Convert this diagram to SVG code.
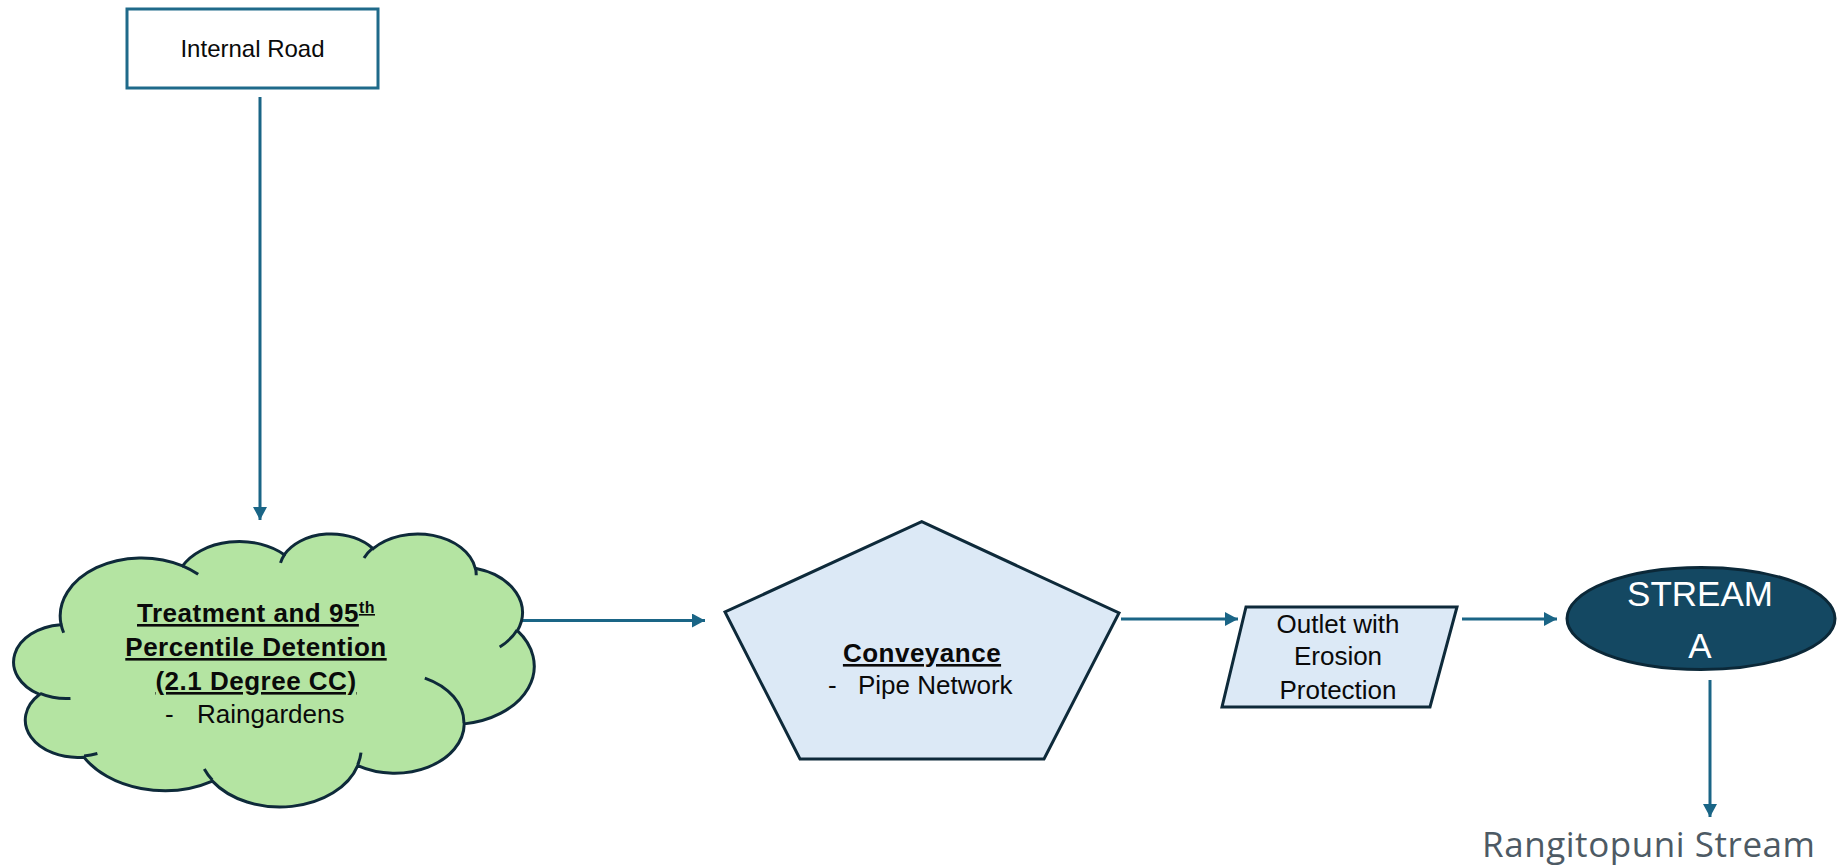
<svg xmlns="http://www.w3.org/2000/svg" width="1842" height="867" viewBox="0 0 1842 867">
<style>
.t{font-family:"Liberation Sans",Arial,sans-serif;fill:#0a0a0a}
.b{font-weight:bold;text-decoration:underline;letter-spacing:0.5px}
.conn{stroke:#1A6586;stroke-width:3;fill:none}
.shape{stroke:#0E2A3A;stroke-width:3}
</style>
<defs>
<marker id="ah" markerUnits="userSpaceOnUse" markerWidth="14" markerHeight="14" refX="13" refY="7" orient="auto">
<path d="M0,0 L13,7 L0,14 z" fill="#1A6586"/>
</marker>
</defs>
<rect width="1842" height="867" fill="#ffffff"/>
<g id="connectors">
<line class="conn" x1="260" y1="97" x2="260" y2="520" marker-end="url(#ah)"/>
<line class="conn" x1="522" y1="620.5" x2="705" y2="620.5" marker-end="url(#ah)"/>
<line class="conn" x1="1121" y1="619" x2="1238" y2="619" marker-end="url(#ah)"/>
<line class="conn" x1="1462" y1="619" x2="1557" y2="619" marker-end="url(#ah)"/>
<line class="conn" x1="1710" y1="680" x2="1710" y2="817" marker-end="url(#ah)"/>
</g>
<g id="internal-road">
<rect x="127" y="9" width="251" height="79" fill="#ffffff" stroke="#1F6A8A" stroke-width="3"/>
<text class="t" x="252.5" y="57" font-size="24" text-anchor="middle">Internal Road</text>
</g>
<g id="treatment">
<g transform="translate(14,533) scale(0.0120370,0.0063194)">
<path d="M3900 14370 A6753 9190 0 0 1 14006 5203 A5333 7267 0 0 1 22456 3433 A4365 5945 0 0 1 29834 2483 A4857 6595 0 0 1 38319 5578 A5333 7273 0 0 1 41820 15462 A6775 9220 0 0 1 37405 30204 A5785 7867 0 0 1 28556 36814 A6752 9215 0 0 1 16481 39267 A7720 10543 0 0 1 5805 35473 A4360 5918 0 0 1 2114 25551 A4345 5945 0 0 1 3864 14507 Z" fill="#B4E4A2" stroke="#0E2A3A" stroke-width="3" vector-effect="non-scaling-stroke"/>
<path d="M4693 26177 A4345 5945 0 0 1 2160 25380 M6928 34899 A4360 5918 0 0 1 5820 35281 M16478 39090 A6752 9215 0 0 1 15809 37348 M28827 34751 A6752 9215 0 0 1 28561 36660 M34129 22954 A5785 7867 0 0 1 37381 30090 M41798 15354 A5333 7273 0 0 1 40349 18031 M38324 5426 A4857 6595 0 0 1 38400 6690 M29078 3952 A4857 6595 0 0 1 29820 2339 M22141 4720 A4365 5945 0 0 1 22500 3331 M14000 5192 A6753 9190 0 0 1 15299 6540 M4127 15789 A6753 9190 0 0 1 3900 14371" fill="none" stroke="#0E2A3A" stroke-width="3" vector-effect="non-scaling-stroke"/>
</g>
<text class="t b" x="256" y="622" font-size="26" text-anchor="middle">Treatment and 95<tspan font-size="16" dy="-9">th</tspan></text>
<text class="t b" x="256" y="656" font-size="26" text-anchor="middle">Percentile Detention</text>
<text class="t b" x="256" y="690" font-size="26" text-anchor="middle">(2.1 Degree CC)</text>
<text class="t" x="165" y="723" font-size="26">-</text>
<text class="t" x="197" y="723" font-size="26">Raingardens</text>
</g>
<g id="conveyance">
<polygon class="shape" points="921.7,521.7 1119,613 1044,759 800,759 725,612" fill="#DCE9F6"/>
<text class="t b" x="922" y="662" font-size="26" text-anchor="middle">Conveyance</text>
<text class="t" x="828" y="694" font-size="26">-</text>
<text class="t" x="858" y="694" font-size="26">Pipe Network</text>
</g>
<g id="outlet">
<polygon class="shape" points="1246,607 1457,607 1430,707 1222,707" fill="#DCE9F6"/>
<text class="t" x="1338" y="633" font-size="26" text-anchor="middle">Outlet with</text>
<text class="t" x="1338" y="665" font-size="26" text-anchor="middle">Erosion</text>
<text class="t" x="1338" y="699" font-size="26" text-anchor="middle">Protection</text>
</g>
<g id="stream-a">
<ellipse cx="1701" cy="618.5" rx="134" ry="51" fill="#144862" stroke="#0B2838" stroke-width="3"/>
<text x="1700" y="606" font-family="Liberation Sans, Arial, sans-serif" font-size="35" fill="#ffffff" text-anchor="middle">STREAM</text>
<text x="1700" y="658" font-family="Liberation Sans, Arial, sans-serif" font-size="35" fill="#ffffff" text-anchor="middle">A</text>
</g>
<g id="rangitopuni">
<text x="1482" y="857" font-family="Open Sans, sans-serif" font-size="35" fill="#4D5A64" textLength="333" lengthAdjust="spacing">Rangitopuni Stream</text>
</g>
</svg>
